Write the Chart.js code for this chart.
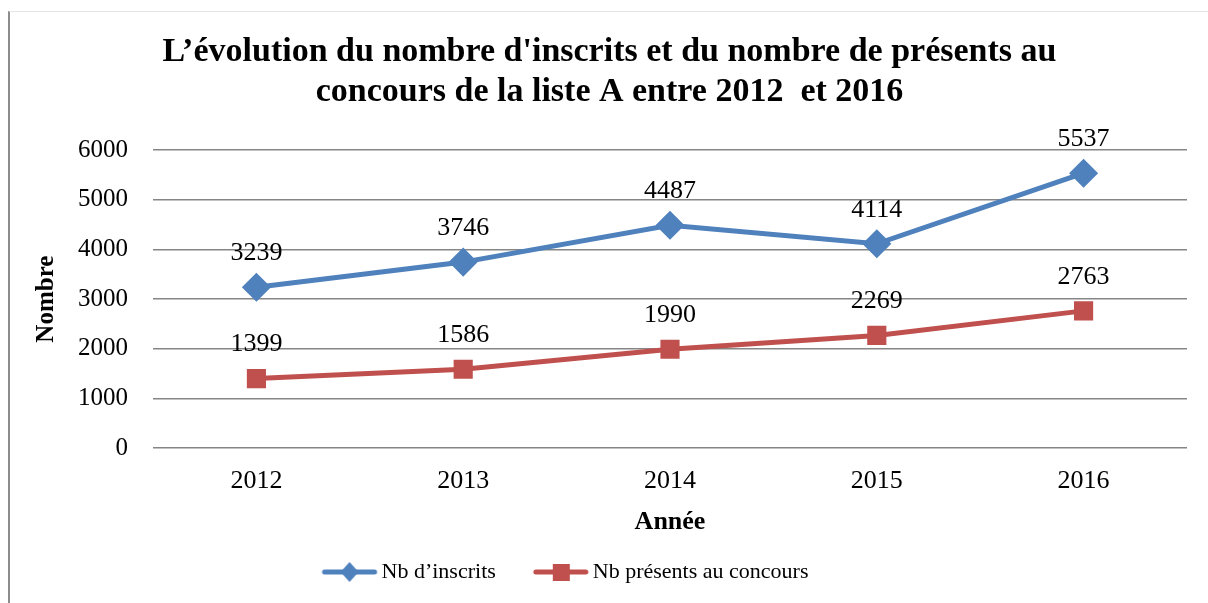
<!DOCTYPE html>
<html>
<head>
<meta charset="utf-8">
<script src="https://cdn.jsdelivr.net/npm/chart.js@4/dist/chart.umd.min.js"></script>
<style>
  body { margin: 0; background: #fff; }
  #wrap { position: relative; width: 1208px; height: 603px; }
  #frame { position: absolute; left: 8px; top: 11px; width: 1300px; height: 700px;
           border-left: 2px solid #8c8c8c; border-top: 1px solid #e4e4e4; }
  canvas { position: absolute; left: 0; top: 0; }
</style>
</head>
<body>
<div id="wrap">
  <div id="frame"></div>
  <canvas id="LineChart" width="1208" height="603"></canvas>
</div>
<script>
const annees = ['2012', '2013', '2014', '2015', '2016'];
const inscrits = [3239, 3746, 4487, 4114, 5537];
const presents = [1399, 1586, 1990, 2269, 2763];
const titreLignes = ["L\u2019évolution du nombre d'inscrits et du nombre de présents au",
                     "concours de la liste A entre 2012  et 2016"];

const bleu = '#4F81BD';
const rouge = '#C0504D';
const police = "'Liberation Serif', 'DejaVu Serif', serif";

// icone de legende : trait + marqueur (plus large que la boite pour coller au texte)
function iconeLegende(couleur, forme) {
    const c = document.createElement('canvas');
    c.width = 92; c.height = 24;
    const g = c.getContext('2d');
    g.strokeStyle = couleur;
    g.lineWidth = 5;
    g.lineCap = 'round';
    g.beginPath(); g.moveTo(38, 12); g.lineTo(88, 12); g.stroke();
    g.fillStyle = couleur;
    const cx = 63;
    if (forme === 'losange') {
        g.beginPath(); g.moveTo(cx, 2); g.lineTo(cx + 9, 12); g.lineTo(cx, 22); g.lineTo(cx - 9, 12); g.closePath(); g.fill();
    } else {
        g.fillRect(cx - 8, 4, 17, 17);
    }
    return c;
}

const etiquettes = {
    id: 'etiquettes',
    afterDatasetsDraw(chart) {
        const ctx = chart.ctx;
        ctx.save();
        ctx.font = "26px " + police;
        ctx.fillStyle = '#000';
        ctx.textAlign = 'center';
        ctx.textBaseline = 'middle';
        chart.data.datasets.forEach((ds, i) => {
            chart.getDatasetMeta(i).data.forEach((pt, j) => {
                ctx.fillText(String(ds.data[j]), pt.x, pt.y - 34);
            });
        });
        ctx.restore();
    }
};

// la legende de l'original n'est pas centree sur la page
const decaleLegende = {
    id: 'decaleLegende',
    afterLayout(chart) {
        chart.legend.left -= 58;
        chart.legend.right -= 58;
    }
};

const ctx = document.getElementById('LineChart').getContext('2d');
new Chart(ctx, {
    type: 'line',
    data: {
        labels: annees,
        datasets: [
            {
                label: 'Nb d\u2019inscrits',
                data: inscrits,
                borderColor: bleu,
                backgroundColor: bleu,
                borderWidth: 5,
                pointStyle: 'rectRot',
                pointRadius: 11,
                pointHoverRadius: 11,
                tension: 0
            },
            {
                label: 'Nb présents au concours',
                data: presents,
                borderColor: rouge,
                backgroundColor: rouge,
                borderWidth: 5,
                pointStyle: 'rect',
                pointRadius: 10,
                pointHoverRadius: 10,
                tension: 0
            }
        ]
    },
    options: {
        responsive: false,
        animation: false,
        layout: { padding: { top: 24, left: 32, right: 21, bottom: 10 } },
        scales: {
            x: {
                offset: true,
                grid: { display: false, drawTicks: false },
                border: { display: false },
                ticks: { color: '#000', font: { family: police, size: 26 }, padding: 18 },
                title: { display: true, text: 'Année', color: '#000',
                         font: { family: police, size: 26, weight: 'bold' }, padding: { top: 0, bottom: 13 } },
                afterFit(scale) { scale.height = 103; }
            },
            y: {
                min: 0,
                max: 6000,
                ticks: { stepSize: 1000, color: '#000', font: { family: police, size: 25 }, padding: 25,
                         callback: v => String(v) },
                grid: { color: '#868686', lineWidth: 1.5, drawTicks: false },
                border: { display: false },
                title: { display: true, text: 'Nombre', color: '#000',
                         font: { family: police, size: 25, weight: 'bold' }, padding: { top: 0, bottom: 16 } },
                afterFit(scale) { scale.width = 121; }
            }
        },
        plugins: {
            title: {
                display: true,
                text: titreLignes,
                color: '#000',
                font: { family: police, size: 34, weight: 'bold', lineHeight: 1.18 },
                padding: { top: 8, bottom: 38 }
            },
            legend: {
                position: 'bottom',
                labels: {
                    color: '#000',
                    font: { family: police, size: 22 },
                    usePointStyle: true,
                    pointStyleWidth: 76,
                    padding: 10,
                    generateLabels(chart) {
                        const icones = [iconeLegende(bleu, 'losange'), iconeLegende(rouge, 'carre')];
                        return chart.data.datasets.map((ds, i) => ({
                            text: ds.label,
                            fillStyle: ds.borderColor,
                            strokeStyle: ds.borderColor,
                            fontColor: '#000',
                            pointStyle: icones[i],
                            lineWidth: 0,
                            hidden: false,
                            datasetIndex: i
                        }));
                    }
                }
            },
            tooltip: { enabled: false }
        }
    },
    plugins: [etiquettes, decaleLegende]
});
</script>
</body>
</html>
